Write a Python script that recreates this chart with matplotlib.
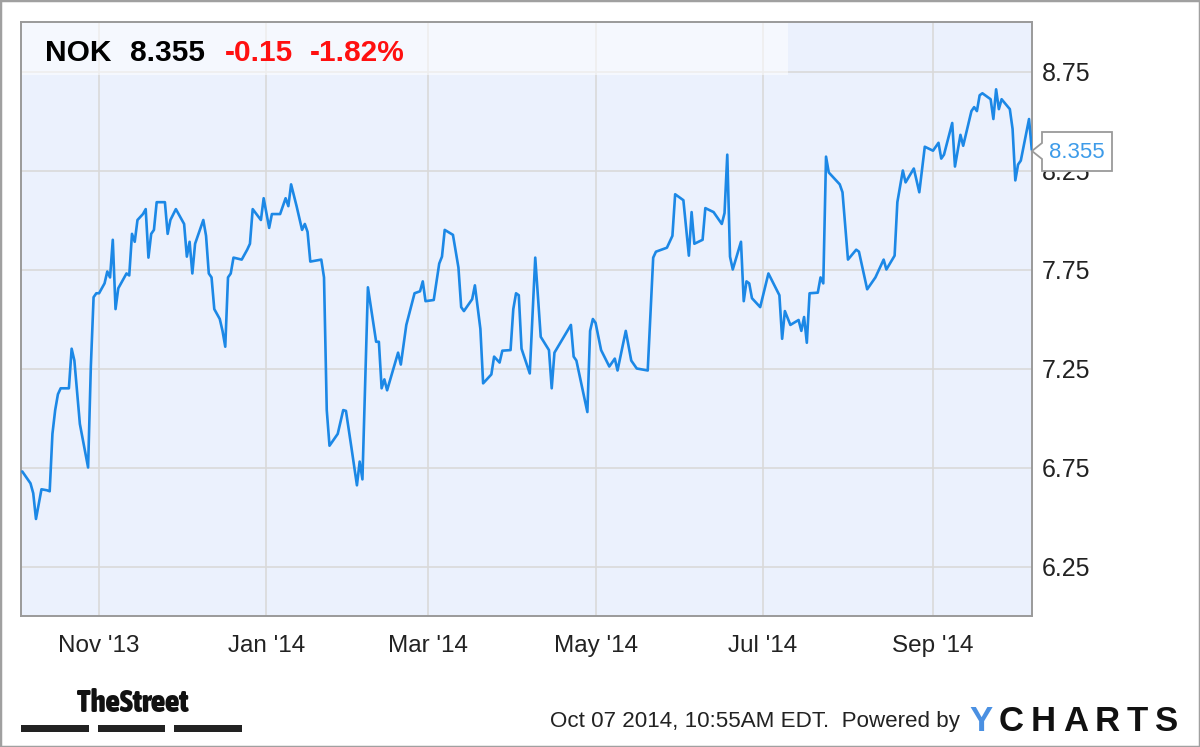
import matplotlib
matplotlib.use("Agg")
import matplotlib.pyplot as plt
import matplotlib.dates as mdates
from matplotlib.patches import Rectangle, Polygon
from matplotlib import font_manager
import pandas as pd
from datetime import datetime

plt.rcParams['font.family'] = ['Liberation Sans', 'DejaVu Sans']

# ---------------- data ----------------
dates = [
    "2013-10-04", "2013-10-07", "2013-10-08", "2013-10-09", "2013-10-11", "2013-10-13",
    "2013-10-14", "2013-10-15", "2013-10-16", "2013-10-17", "2013-10-18", "2013-10-21",
    "2013-10-22", "2013-10-23", "2013-10-25", "2013-10-28", "2013-10-29", "2013-10-30",
    "2013-10-31",
    "2013-11-01", "2013-11-03", "2013-11-04", "2013-11-05", "2013-11-06", "2013-11-07",
    "2013-11-08", "2013-11-11", "2013-11-12", "2013-11-13", "2013-11-14", "2013-11-15",
    "2013-11-17", "2013-11-18", "2013-11-19", "2013-11-20", "2013-11-21", "2013-11-22",
    "2013-11-25", "2013-11-26", "2013-11-27", "2013-11-29",
    "2013-12-02", "2013-12-03", "2013-12-04", "2013-12-05", "2013-12-06", "2013-12-09",
    "2013-12-10", "2013-12-11", "2013-12-12", "2013-12-13", "2013-12-15", "2013-12-16",
    "2013-12-17", "2013-12-18", "2013-12-19", "2013-12-20", "2013-12-23", "2013-12-25",
    "2013-12-26", "2013-12-27", "2013-12-30", "2013-12-31",
    "2014-01-02", "2014-01-03", "2014-01-06", "2014-01-07", "2014-01-08", "2014-01-09",
    "2014-01-10", "2014-01-12", "2014-01-14", "2014-01-15", "2014-01-16", "2014-01-17",
    "2014-01-21", "2014-01-22", "2014-01-23", "2014-01-24", "2014-01-27", "2014-01-29",
    "2014-01-30",
    "2014-02-01", "2014-02-03", "2014-02-04", "2014-02-05", "2014-02-07", "2014-02-10",
    "2014-02-11", "2014-02-12", "2014-02-13", "2014-02-14", "2014-02-18", "2014-02-19",
    "2014-02-21", "2014-02-24", "2014-02-26", "2014-02-27", "2014-02-28",
    "2014-03-03", "2014-03-05", "2014-03-06", "2014-03-07", "2014-03-10", "2014-03-12",
    "2014-03-13", "2014-03-14", "2014-03-17", "2014-03-18", "2014-03-20", "2014-03-21",
    "2014-03-24", "2014-03-25", "2014-03-27", "2014-03-28", "2014-03-31",
    "2014-04-01", "2014-04-02", "2014-04-03", "2014-04-04", "2014-04-07", "2014-04-09",
    "2014-04-11", "2014-04-14", "2014-04-15", "2014-04-16", "2014-04-22", "2014-04-23",
    "2014-04-24", "2014-04-28", "2014-04-29", "2014-04-30",
    "2014-05-01", "2014-05-03", "2014-05-06", "2014-05-08", "2014-05-09", "2014-05-12",
    "2014-05-14", "2014-05-16", "2014-05-20", "2014-05-22", "2014-05-23", "2014-05-27",
    "2014-05-29", "2014-05-30",
    "2014-06-02", "2014-06-04", "2014-06-05", "2014-06-06", "2014-06-09", "2014-06-10",
    "2014-06-13", "2014-06-16", "2014-06-17", "2014-06-18", "2014-06-19", "2014-06-20",
    "2014-06-23", "2014-06-24", "2014-06-25", "2014-06-26", "2014-06-27", "2014-06-30",
    "2014-07-01", "2014-07-03", "2014-07-07", "2014-07-08", "2014-07-09", "2014-07-11",
    "2014-07-14", "2014-07-15", "2014-07-16", "2014-07-17", "2014-07-18", "2014-07-21",
    "2014-07-22", "2014-07-23", "2014-07-24", "2014-07-25", "2014-07-29", "2014-07-30",
    "2014-08-01", "2014-08-04", "2014-08-05", "2014-08-08", "2014-08-11", "2014-08-12",
    "2014-08-14", "2014-08-15", "2014-08-18", "2014-08-19", "2014-08-21", "2014-08-22",
    "2014-08-25", "2014-08-27", "2014-08-29",
    "2014-09-01", "2014-09-03", "2014-09-04", "2014-09-05", "2014-09-08", "2014-09-09",
    "2014-09-11", "2014-09-12", "2014-09-15", "2014-09-16", "2014-09-17", "2014-09-18",
    "2014-09-19", "2014-09-22", "2014-09-23", "2014-09-24", "2014-09-25", "2014-09-26",
    "2014-09-29", "2014-09-30",
    "2014-10-01", "2014-10-02", "2014-10-03", "2014-10-06", "2014-10-07",
]
close = [
    6.73, 6.67, 6.62, 6.49, 6.64, 6.635,
    6.63, 6.92, 7.04, 7.12, 7.15, 7.15,
    7.35, 7.29, 6.97, 6.75, 7.26, 7.61,
    7.63,
    7.63, 7.68, 7.74, 7.71, 7.90, 7.55,
    7.655, 7.73, 7.72, 7.93, 7.89, 8.00,
    8.03, 8.055, 7.81, 7.93, 7.95, 8.09,
    8.09, 7.93, 8.00, 8.055,
    7.98, 7.815, 7.89, 7.73, 7.88, 8.00,
    7.92, 7.73, 7.71, 7.55, 7.50, 7.44,
    7.36, 7.71, 7.73, 7.81, 7.80, 7.85,
    7.88, 8.055, 8.00, 8.11,
    7.96, 8.03, 8.03, 8.07, 8.11, 8.07,
    8.18, 8.07, 7.95, 7.98, 7.94, 7.79,
    7.80, 7.71, 7.04, 6.86, 6.92, 7.04,
    7.036,
    6.85, 6.66, 6.78, 6.69, 7.66, 7.385,
    7.385, 7.15, 7.195, 7.14, 7.33, 7.27,
    7.47, 7.63, 7.64, 7.69, 7.59,
    7.596, 7.78, 7.815, 7.95, 7.925, 7.76,
    7.56, 7.54, 7.60, 7.67, 7.45, 7.175,
    7.22, 7.31, 7.28, 7.34, 7.343,
    7.55, 7.63, 7.62, 7.35, 7.225, 7.81,
    7.41, 7.343, 7.15, 7.33, 7.47, 7.31,
    7.29, 7.03, 7.44, 7.50,
    7.48, 7.343, 7.26, 7.30, 7.24, 7.44,
    7.29, 7.25, 7.24, 7.81, 7.84, 7.86,
    7.92, 8.13,
    8.10, 7.82, 8.04, 7.88, 7.90, 8.06,
    8.04, 7.98, 8.035, 8.33, 7.815, 7.75,
    7.89, 7.59, 7.69, 7.68, 7.605, 7.56,
    7.616, 7.73, 7.62, 7.40, 7.54, 7.47,
    7.495, 7.44, 7.51, 7.38, 7.63, 7.633,
    7.71, 7.68, 8.32, 8.24, 8.18, 8.14,
    7.80, 7.85, 7.84, 7.65, 7.71, 7.74,
    7.80, 7.75, 7.82, 8.09, 8.25, 8.19,
    8.26, 8.14, 8.37,
    8.35, 8.39, 8.31, 8.33, 8.49, 8.27,
    8.43, 8.375, 8.55, 8.57, 8.55, 8.63,
    8.64, 8.61, 8.51, 8.66, 8.56, 8.61,
    8.56, 8.46,
    8.20, 8.28, 8.30, 8.51, 8.355,
]
ticker = "NOK"
last_price = "8.355"
change = "-0.15"
change_pct = "-1.82%"
y_ticks = [6.25, 6.75, 7.25, 7.75, 8.25, 8.75]
y_tick_labels = ["6.25", "6.75", "7.25", "7.75", "8.25", "8.75"]
timestamp = "Oct 07 2014, 10:55AM EDT.  Powered by"
brand = "TheStreet"
logo_letters = ["Y", "C", "H", "A", "R", "T", "S"]

# ---------------- figure ----------------
W, H = 1200, 747
fig = plt.figure(figsize=(W / 100, H / 100), dpi=100)
fig.patch.set_facecolor("white")


def fx(px):
    return px / W


def fy(py):
    return 1 - py / H


L, R, T, B = 21, 1032, 22, 616
ax = fig.add_axes([fx(L), fy(B), fx(R) - fx(L), fy(T) - fy(B)])
ax.set_facecolor("#ebf1fd")
ax.plot(pd.to_datetime(dates), close, color="#1c88e6", lw=1.9, zorder=3,
        solid_joinstyle="round", solid_capstyle="round")
ax.set_ylim(6.0, 9.0)
ax.set_xlim(datetime(2013, 10, 3, 13), datetime(2014, 10, 7, 2))

ax.yaxis.tick_right()
ax.set_yticks(y_ticks)
ax.set_yticklabels(y_tick_labels)
ax.xaxis.set_major_locator(mdates.MonthLocator(bymonth=[1, 3, 5, 7, 9, 11]))
ax.xaxis.set_major_formatter(mdates.DateFormatter("%b '%y"))
ax.tick_params(axis="both", length=0, colors="#222222")
ax.tick_params(axis="y", labelsize=18, pad=7)
ax.tick_params(axis="x", labelsize=17.5, pad=14)
ax.grid(True, color="#d9d9d9", lw=1.2)
ax.set_axisbelow(True)
for s in ax.spines.values():
    s.set_color("#9a9a9a")
    s.set_linewidth(1.4)

# light header band inside plot
band_right = (788 - L) / (R - L)
band_bottom = (B - 75) / (B - T)
ax.add_patch(Rectangle((0, band_bottom), band_right, 1 - band_bottom,
                       transform=ax.transAxes, facecolor="white", alpha=0.55,
                       lw=0, zorder=1))

# header texts
hdr_base = fy(61)
fig.text(fx(45), hdr_base, ticker, fontsize=21.5, weight="bold", color="black", va="baseline")
fig.text(fx(130), hdr_base, last_price, fontsize=21.5, weight="bold", color="black", va="baseline")
fig.text(fx(225), hdr_base, change, fontsize=21.5, weight="bold", color="#ff1010", va="baseline")
fig.text(fx(310), hdr_base, change_pct, fontsize=21.5, weight="bold", color="#ff1010", va="baseline")

# tooltip with last value
tip = [(1042, 132), (1112, 132), (1112, 171), (1042, 171), (1042, 159),
       (1032, 151), (1042, 143)]
fig.patches.append(Polygon([(fx(a), fy(b)) for a, b in tip], closed=True,
                           transform=fig.transFigure, facecolor="white",
                           edgecolor="#9a9a9a", lw=1.3, zorder=2))
fig.text(fx(1077), fy(152), last_price, fontsize=16, color="#3d9be9",
         ha="center", va="center", zorder=4)

# footer
fig.text(fx(550), fy(727), timestamp, fontsize=16.1, color="#222222", va="baseline")

# YCHARTS logo letters, spread evenly between x=969 and x=1178
fig.canvas.draw()
renderer = fig.canvas.get_renderer()
logo_texts = []
widths = []
for i, ch in enumerate(logo_letters):
    t = fig.text(0, fy(731), ch, fontsize=25, weight="bold",
                 color="#4a90e2" if i == 0 else "#111111", va="baseline")
    logo_texts.append(t)
    widths.append(t.get_window_extent(renderer).width)
gap = (1178 - 969 - sum(widths)) / (len(widths) - 1)
xx = 969.0
for t, w in zip(logo_texts, widths):
    t.set_x(fx(xx))
    xx += w + gap

# TheStreet brand
cond = None
for f in font_manager.fontManager.ttflist:
    n = f.name.lower()
    w = f.weight if isinstance(f.weight, int) else font_manager.weight_dict.get(f.weight, 400)
    if ("narrow" in n or "condensed" in n) and w >= 600:
        cond = f.fname
        break
if cond is not None:
    bprop = font_manager.FontProperties(fname=cond)
else:
    bprop = font_manager.FontProperties(family="Liberation Sans", weight="bold")
bt = fig.text(fx(77), fy(712), brand, fontproperties=bprop, color="#111111", va="baseline")
bt.set_fontsize(24)
bw = bt.get_window_extent(renderer).width
bt.set_fontsize(24 * 111.0 / bw)

for x0, x1 in [(21, 89), (98, 165), (174, 242)]:
    fig.patches.append(Rectangle((fx(x0), fy(732)), fx(x1) - fx(x0), fy(725) - fy(732),
                                 transform=fig.transFigure, facecolor="#222222", lw=0))

# outer border
fig.patches.append(Rectangle((0, 0), 1, 1, transform=fig.transFigure, fill=False,
                             edgecolor="#a0a0a0", lw=2.5, zorder=5))

fig.savefig("out.png", dpi=100, facecolor="white")
